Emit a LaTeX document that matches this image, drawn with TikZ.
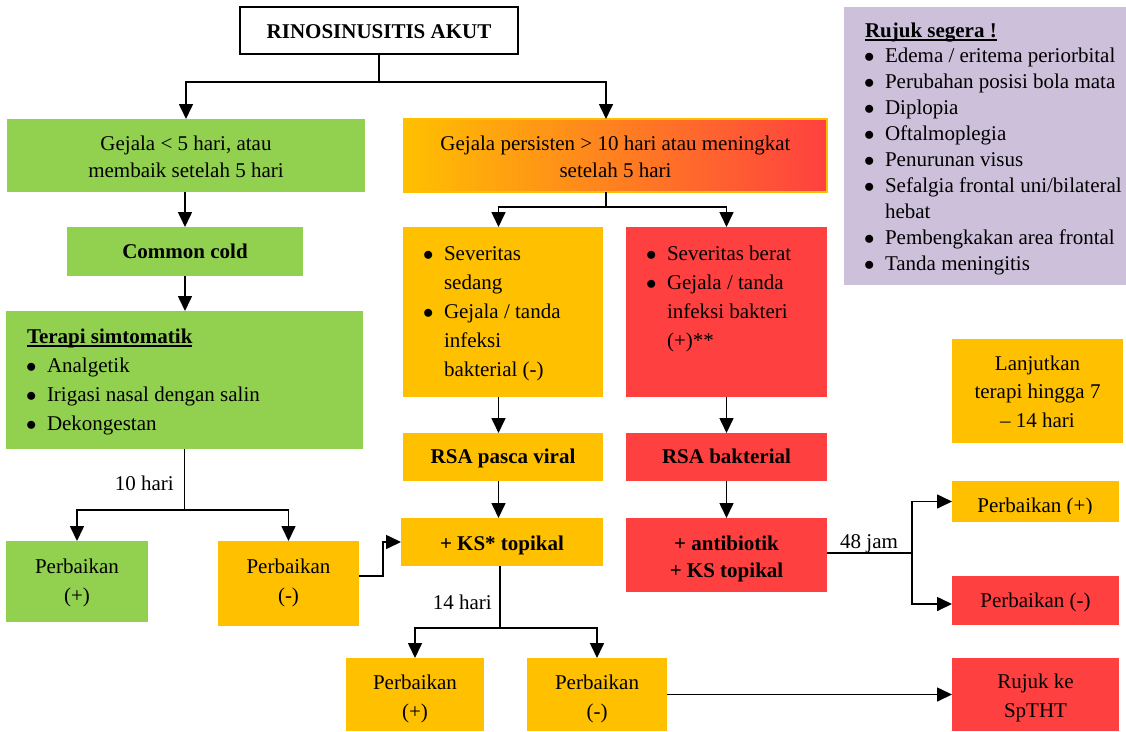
\documentclass[tikz,border=0pt]{standalone}
\usepackage{fontspec}
\setmainfont{Liberation Serif}
\usetikzlibrary{arrows.meta,calc}
\definecolor{cgreen}{HTML}{92D050}
\definecolor{corange}{HTML}{FFC000}
\definecolor{cred}{HTML}{FF4040}
\definecolor{cpurple}{HTML}{CCC0DA}
% #1 width, #2 height, #3 first baseline offset, #4 line skip, #5 rows
\newcommand{\ctext}[5]{\parbox[t][#2pt][t]{#1pt}{\fontsize{21pt}{#4pt}\selectfont\vspace*{\dimexpr#3pt-0.7\baselineskip\relax}\centering\begin{tabular}[t]{@{}c@{}}#5\end{tabular}\par}}
\newcommand{\ltext}[5]{\parbox[t][#2pt][t]{#1pt}{\fontsize{21pt}{#4pt}\selectfont\vspace*{\dimexpr#3pt-0.7\baselineskip\relax}\hspace*{20pt}\begin{tabular}[t]{@{}l@{}l@{}}#5\end{tabular}\par}}
\newcommand{\bul}{\makebox[21pt][l]{$\bullet$}}
\newcommand{\myul}[1]{\setbox0=\hbox{#1}\rlap{\rule[-3.5pt]{\wd0}{1.4pt}}\box0}
\begin{document}
\begin{tikzpicture}[x=1pt,y=-1pt,
  box/.style={inner sep=0pt, outer sep=0pt, anchor=north west},
  lbl/.style={inner sep=0pt, font=\fontsize{21pt}{25pt}\selectfont},
  conn/.style={line width=1.6pt, black},
  arr/.style={conn, -{Triangle[width=14pt,length=15pt]}}]
\useasboundingbox (0,0) rectangle (1126,731);

% boxes
\node[box, fill=white, draw=black, line width=1.5pt] (title) at (240,7) {\ctext{278}{47}{31}{25}{\textbf{RINOSINUSITIS AKUT}}};
\node[box, fill=cgreen] (g1) at (7,119) {\ctext{358}{73}{31}{27}{Gejala < 5 hari, atau\\membaik setelah 5 hari}};
\node[box, left color=corange, right color=cred, draw=corange, line width=1.2pt] (grad) at (404,119) {\ctext{423}{73}{31}{27}{Gejala persisten > 10 hari atau meningkat\\setelah 5 hari}};
\node[box, fill=cgreen] (cc) at (67,227) {\ctext{236}{49}{31}{25}{\textbf{Common cold}}};
\node[box, fill=cgreen] (ts) at (6,311) {\ltext{357}{138}{32}{29}{\multicolumn{2}{@{}l@{}}{\hspace*{1pt}\myul{\textbf{Terapi simtomatik}}}\\ \bul & Analgetik\\ \bul & Irigasi nasal dengan salin\\ \bul & Dekongestan}};
\node[box, fill=corange] (ob) at (403,227) {\ltext{200}{170}{33}{29}{\bul & Severitas\\ & sedang\\ \bul & Gejala / tanda\\ & infeksi\\ & bakterial (-)}};
\node[box, fill=cred] (rb) at (626,227) {\ltext{201}{170}{33}{29}{\bul & Severitas berat\\ \bul & Gejala / tanda\\ & infeksi bakteri\\ & (+)**}};
\node[box, fill=corange] (rsa1) at (403,433) {\ctext{200}{48}{30}{25}{\textbf{RSA pasca viral}}};
\node[box, fill=cred] (rsa2) at (626,433) {\ctext{201}{48}{30}{25}{\textbf{RSA bakterial}}};
\node[box, fill=corange] (ks) at (401,518) {\ctext{202}{48}{32}{25}{\textbf{+ KS* topikal}}};
\node[box, fill=cred] (ab) at (626,518) {\ctext{201}{74}{32}{27}{\textbf{+ antibiotik}\\\textbf{+ KS topikal}}};
\node[box, fill=cpurple] (pur) at (844,7) {\ltext{282}{278}{30}{25.9}{\multicolumn{2}{@{}l@{}}{\hspace*{1pt}\myul{\textbf{Rujuk segera !}}}\\ \bul & Edema / eritema periorbital\\ \bul & Perubahan posisi bola mata\\ \bul & Diplopia\\ \bul & Oftalmoplegia\\ \bul & Penurunan visus\\ \bul & Sefalgia frontal uni/bilateral\\ & hebat\\ \bul & Pembengkakan area frontal\\ \bul & Tanda meningitis}};
\node[box, fill=corange] (lj) at (952,339) {\ctext{171}{104}{31}{28.5}{Lanjutkan\\terapi hingga 7\\– 14 hari}};
\node[box, fill=corange, minimum width=167pt, minimum height=41pt] (pp1) at (952,481) {};
\begin{scope}
  \clip (952,481) rectangle (1119,513.5);
  \node[lbl, anchor=base] (pp1t) at (1035,512) {Perbaikan (+)};
\end{scope}
\node[box, fill=cred] (pm1) at (952,576) {\ctext{167}{49}{31}{25}{Perbaikan (-)}};
\node[box, fill=cred] (rj) at (952,658) {\ctext{167}{73}{30}{29}{Rujuk ke\\SpTHT}};
\node[box, fill=cgreen] (pg) at (6,541) {\ctext{142}{81}{32}{29}{Perbaikan\\(+)}};
\node[box, fill=corange] (po) at (218,541) {\ctext{141}{85}{32}{29}{Perbaikan\\(-)}};
\node[box, fill=corange] (pb1) at (346,658) {\ctext{138}{73}{31}{29}{Perbaikan\\(+)}};
\node[box, fill=corange] (pb2) at (527,658) {\ctext{140}{73}{31}{29}{Perbaikan\\(-)}};

% labels
\node[lbl, anchor=base east] (l10) at (174,490) {10 hari};
\node[lbl, anchor=base east] (l14) at (492,609) {14 hari};
\node[lbl, anchor=base west] (l48) at (840,548) {48 jam};

% connectors
\coordinate (j1) at ([yshift=-28pt]title.south);
\draw[conn] (title.south) -- (j1);
\draw[arr] (j1) -| (g1.north);
\draw[arr] (j1) -| ([xshift=-9.5pt]grad.north);

\coordinate (j2) at ([xshift=-9.5pt,yshift=-15pt]grad.south);
\draw[conn] ([xshift=-9.5pt]grad.south) -- (j2);
\draw[arr] (j2) -| ([xshift=-4.5pt]ob.north);
\draw[arr] (j2) -| (rb.north);

\draw[arr] (cc.north |- g1.south) -- (cc.north);
\draw[arr] (cc.south) -- (cc.south |- ts.north);

\coordinate (j3) at ([yshift=-61pt]ts.south);
\draw[conn] (ts.south) -- (j3);
\draw[arr] (j3) -| (pg.north);
\draw[arr] (j3) -| (po.north);
\draw[arr] ([yshift=7.5pt]po.east) -- ++(24,0) |- (ks.west);

\draw[arr] ([xshift=-4.5pt]ob.south) -- ([xshift=-4.5pt]rsa1.north);
\draw[arr] ([xshift=-4.5pt]rsa1.south) -- ([xshift=-3.5pt]ks.north);
\draw[arr] (rb.south) -- (rsa2.north);
\draw[arr] (rsa2.south) -- (ab.north);

\coordinate (j4) at ([xshift=-2pt,yshift=-62pt]ks.south);
\draw[conn] ([xshift=-2pt]ks.south) -- (j4);
\draw[arr] (j4) -| (pb1.north);
\draw[arr] (j4) -| (pb2.north);
\draw[arr] (pb2.east) -- (rj.west);

\coordinate (j5) at ([xshift=85pt,yshift=2pt]ab.east);
\draw[conn] ([yshift=2pt]ab.east) -- (j5);
\draw[arr] (j5) |- (pp1.west);
\draw[arr] (j5) |- ([yshift=-3.5pt]pm1.west);
\end{tikzpicture}
\end{document}
